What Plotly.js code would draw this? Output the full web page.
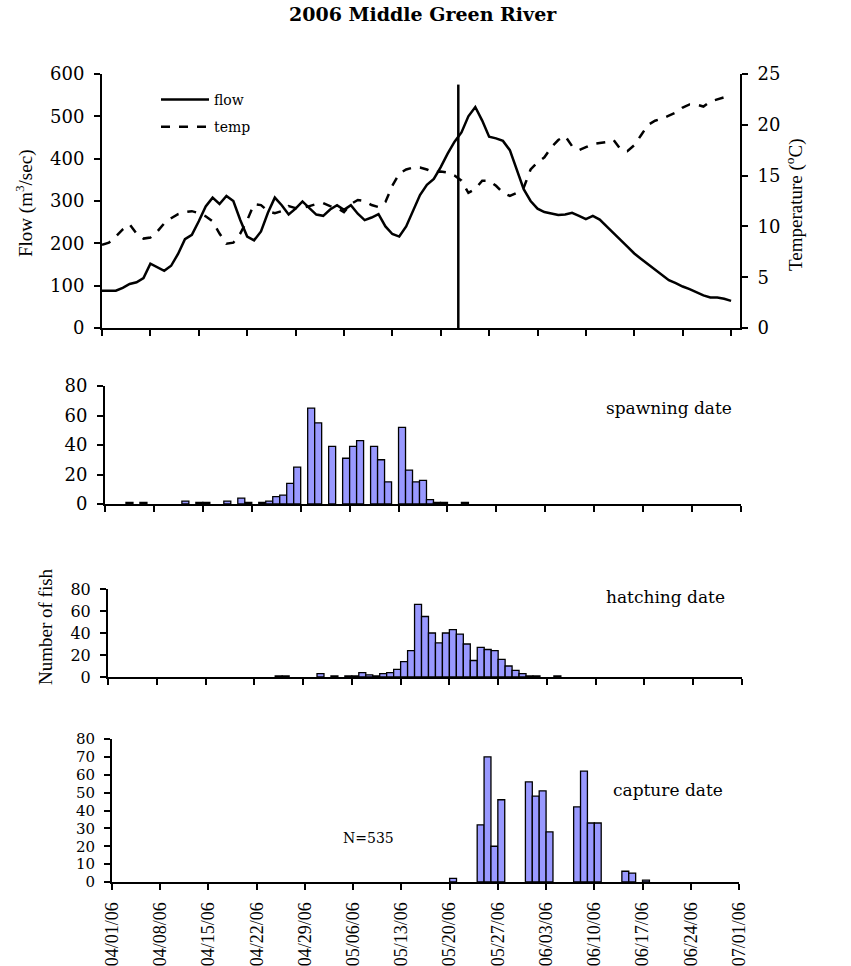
<!DOCTYPE html>
<html>
<head>
<meta charset="utf-8">
<script src="https://cdn.plot.ly/plotly-3.0.1.min.js"></script>
<style>
  html, body { margin: 0; padding: 0; background: #fff; }
  #chart { width: 851px; height: 966px; }
</style>
</head>
<body>
<div id="chart"></div>
<script>
// daily series, first day 04/01/06
const seriesStart = '2006-04-01';
const flowCms = [88, 88, 88, 95, 104, 108, 118, 152, 143, 135,
    147, 175, 210, 220, 252, 287, 308, 293, 312, 300,
    255, 216, 207, 228, 272, 308, 290, 268, 282, 299,
    283, 268, 265, 280, 290, 279, 290, 270, 255, 261,
    269, 240, 222, 216, 240, 275, 314, 338, 352, 380,
    412, 440, 462, 500, 522, 490, 452, 448, 442, 420,
    372, 328, 300, 282, 274, 270, 267, 268, 272, 265,
    257, 265, 256, 240, 225, 208, 192, 176, 163, 150,
    139, 126, 113, 106, 98, 92, 84, 77, 72, 72,
    69, 64];
const tempC = [8.2, 8.4, 9.0, 9.7, 10.2, 9.3, 8.8, 8.9, 9.5, 10.3,
    10.8, 11.2, 11.4, 11.5, 11.3, 11.0, 10.5, 9.3, 8.3, 8.4,
    9.3, 10.6, 12.2, 12.1, 11.5, 11.3, 11.5, 12.0, 11.8, 11.8,
    12.0, 12.2, 12.3, 12.0, 11.8, 11.4, 12.2, 12.6, 12.5, 12.1,
    11.9, 12.4, 14.0, 15.2, 15.6, 15.8, 15.8, 15.6, 15.3, 15.4,
    15.3, 15.0, 14.5, 13.3, 13.7, 14.5, 14.5, 14.0, 13.3, 13.0,
    13.3, 13.8, 15.6, 16.3, 16.8, 17.8, 18.5, 18.9, 17.9, 17.5,
    17.8, 18.1, 18.2, 18.3, 18.5, 17.6, 17.4, 18.0, 19.0, 20.0,
    20.4, 20.6, 20.9, 21.2, 21.7, 22.0, 22.0, 21.8, 22.3, 22.5,
    22.7, 22.6];

// vertical marker in the flow panel
const markerDate = '2006-05-22 13:00';
const markerTop = 575;

const spawnDates = ['2006-04-04', '2006-04-06', '2006-04-12', '2006-04-14', '2006-04-15',
    '2006-04-18', '2006-04-20', '2006-04-21', '2006-04-23', '2006-04-24', '2006-04-25',
    '2006-04-26', '2006-04-27', '2006-04-28', '2006-04-30', '2006-05-01', '2006-05-03',
    '2006-05-05', '2006-05-06', '2006-05-07', '2006-05-09', '2006-05-10', '2006-05-11',
    '2006-05-13', '2006-05-14', '2006-05-15', '2006-05-16', '2006-05-17', '2006-05-18',
    '2006-05-19', '2006-05-22'];
const spawnCounts = [1, 1, 2, 1, 1, 2, 4, 1, 1, 2, 5, 6, 14, 25, 65, 55, 39, 31, 39, 43,
    39, 30, 15, 52, 23, 15, 16, 3, 1, 1, 1];

const hatchDates = ['2006-04-25', '2006-04-26', '2006-05-01', '2006-05-03', '2006-05-05',
    '2006-05-06', '2006-05-07', '2006-05-08', '2006-05-09', '2006-05-10', '2006-05-11',
    '2006-05-12', '2006-05-13', '2006-05-14', '2006-05-15', '2006-05-16', '2006-05-17',
    '2006-05-18', '2006-05-19', '2006-05-20', '2006-05-21', '2006-05-22', '2006-05-23',
    '2006-05-24', '2006-05-25', '2006-05-26', '2006-05-27', '2006-05-28', '2006-05-29',
    '2006-05-30', '2006-05-31', '2006-06-01', '2006-06-04'];
const hatchCounts = [1, 1, 3, 1, 1, 1, 4, 2, 1, 3, 4, 7, 14, 24, 66, 55, 40, 31, 40, 43,
    39, 30, 15, 27, 25, 24, 16, 10, 6, 3, 1, 1, 1];

const captureDates = ['2006-05-20', '2006-05-24', '2006-05-25', '2006-05-26', '2006-05-27',
    '2006-05-31', '2006-06-01', '2006-06-02', '2006-06-03', '2006-06-07', '2006-06-08',
    '2006-06-09', '2006-06-10', '2006-06-14', '2006-06-15', '2006-06-17'];
const captureCounts = [2, 32, 70, 20, 46, 56, 48, 51, 28, 42, 62, 33, 33, 6, 5, 1];

const W = 851, H = 966;
const DAY = 86400000;
// the original is a bit stretched sideways: wide serif for flat text,
// times-like serif for the rotated text
const WIDE = 'DejaVu Serif, serif';
const TIMES = 'Liberation Serif, Times New Roman, serif';

const dayList = (start, n) => {
    const t0 = Date.parse(start + 'T00:00:00Z');
    const out = [];
    for (let i = 0; i < n; i++) {
        out.push(new Date(t0 + i * DAY).toISOString().slice(0, 10));
    }
    return out;
};

// pixel helpers, margins are zero so paper == page
const px = x => x / W;
const py = y => 1 - y / H;

const days = dayList(seriesStart, flowCms.length);

const barTrace = (x, y, xa, ya) => ({
    type: 'bar',
    x: x,
    y: y,
    xaxis: xa,
    yaxis: ya,
    width: DAY,
    offset: 0,
    marker: { color: '#9999ff', line: { color: '#000', width: 1.3 } },
    showlegend: false,
    hoverinfo: 'x+y',
});

const traces = [
    {
        type: 'scatter', mode: 'lines', name: 'flow',
        x: days, y: flowCms, xaxis: 'x', yaxis: 'y',
        line: { color: '#000', width: 2.5 },
        legendgroup: 'a',
    },
    {
        type: 'scatter', mode: 'lines', name: 'temp',
        x: days, y: tempC, xaxis: 'x', yaxis: 'y2',
        line: { color: '#000', width: 2.5, dash: 'dash' },
        legendgroup: 'b',
    },
    {
        type: 'scatter', mode: 'lines',
        x: [markerDate, markerDate], y: [0, markerTop], xaxis: 'x', yaxis: 'y',
        line: { color: '#000', width: 2.5 },
        showlegend: false, hoverinfo: 'skip',
    },
    barTrace(spawnDates, spawnCounts, 'x2', 'y3'),
    barTrace(hatchDates, hatchCounts, 'x3', 'y4'),
    barTrace(captureDates, captureCounts, 'x4', 'y5'),
];

const xBase = {
    type: 'date',
    tick0: '2006-04-01',
    dtick: 7 * DAY,
    showgrid: false,
    zeroline: false,
    showline: true,
    linecolor: '#000',
    linewidth: 2,
    ticks: 'outside',
    ticklen: 6,
    tickwidth: 2,
    tickcolor: '#000',
    showticklabels: false,
    fixedrange: true,
};
const yBase = {
    showgrid: false,
    zeroline: false,
    showline: true,
    linecolor: '#000',
    linewidth: 2,
    ticks: 'outside',
    ticklen: 6,
    tickwidth: 2,
    tickcolor: '#000',
    ticklabelstandoff: 6,
    tickfont: { family: WIDE, size: 17, color: '#000' },
    fixedrange: true,
};

const layout = {
    width: W,
    height: H,
    margin: { l: 0, r: 0, t: 0, b: 0 },
    paper_bgcolor: '#fff',
    plot_bgcolor: 'rgba(0,0,0,0)',
    font: { family: WIDE, color: '#000', size: 16 },
    bargap: 0,
    showlegend: true,
    legend: {
        x: px(156), y: py(84), xanchor: 'left', yanchor: 'top',
        bgcolor: 'rgba(0,0,0,0)',
        font: { family: WIDE, size: 14, color: '#000' },
        itemwidth: 48,
        tracegroupgap: 6,
    },

    // flow / temp panel
    xaxis: Object.assign({}, xBase, {
        domain: [px(102), px(740)], anchor: 'y',
        range: ['2006-04-01', '2006-07-02 07:00'],
    }),
    yaxis: Object.assign({}, yBase, {
        domain: [py(328), py(74)], anchor: 'x',
        range: [0, 600], dtick: 100,
        tickfont: { family: WIDE, size: 18, color: '#000' },
    }),
    yaxis2: Object.assign({}, yBase, {
        overlaying: 'y', side: 'right', anchor: 'x',
        range: [0, 25], dtick: 5,
        tickfont: { family: WIDE, size: 18, color: '#000' },
    }),

    // spawning
    xaxis2: Object.assign({}, xBase, {
        domain: [px(105), px(741)], anchor: 'y3',
        range: ['2006-04-01', '2006-07-01'],
    }),
    yaxis3: Object.assign({}, yBase, {
        domain: [py(504), py(386)], anchor: 'x2',
        range: [0, 80], dtick: 20,
        tickfont: { family: WIDE, size: 18, color: '#000' },
    }),

    // hatching
    xaxis3: Object.assign({}, xBase, {
        domain: [px(108), px(742)], anchor: 'y4',
        range: ['2006-04-01', '2006-07-01'],
    }),
    yaxis4: Object.assign({}, yBase, {
        domain: [py(677), py(589)], anchor: 'x3',
        range: [0, 80], dtick: 20,
        tickfont: { family: WIDE, size: 16, color: '#000' },
    }),

    // capture
    xaxis4: Object.assign({}, xBase, {
        domain: [px(112), px(739)], anchor: 'y5',
        range: ['2006-04-01', '2006-07-01'],
        showticklabels: true,
        tickformat: '%m/%d/%y',
        tickangle: -90,
        ticklabelstandoff: 5,
        tickfont: { family: TIMES, size: 18, color: '#000' },
    }),
    yaxis5: Object.assign({}, yBase, {
        domain: [py(882), py(739)], anchor: 'x4',
        range: [0, 80], dtick: 10,
        tickfont: { family: WIDE, size: 15, color: '#000' },
    }),

    annotations: [
        { text: '<b>2006 Middle Green River</b>', x: px(423), y: py(14),
          font: { family: WIDE, size: 19 } },
        { text: 'Flow (m<sup>3</sup>/sec)', x: px(25), y: py(204), textangle: -90,
          font: { family: TIMES, size: 19 } },
        { text: 'Temperature (<sup>o</sup>C)', x: px(795), y: py(205), textangle: -90,
          font: { family: TIMES, size: 19 } },
        { text: 'Number of fish', x: px(45), y: py(627), textangle: -90,
          font: { family: TIMES, size: 19 } },
        { text: 'spawning date', x: px(669), y: py(408), font: { size: 17 } },
        { text: 'hatching date', x: px(665), y: py(597), font: { size: 17 } },
        { text: 'capture date', x: px(668), y: py(790), font: { size: 17 } },
        { text: 'N=535', x: px(368), y: py(838), font: { size: 14 } },
    ].map(a => Object.assign({
        xref: 'paper', yref: 'paper', showarrow: false,
        xanchor: 'center', yanchor: 'middle',
    }, a)),
};

Plotly.newPlot('chart', traces, layout, { displayModeBar: false, staticPlot: true });
</script>
</body>
</html>
